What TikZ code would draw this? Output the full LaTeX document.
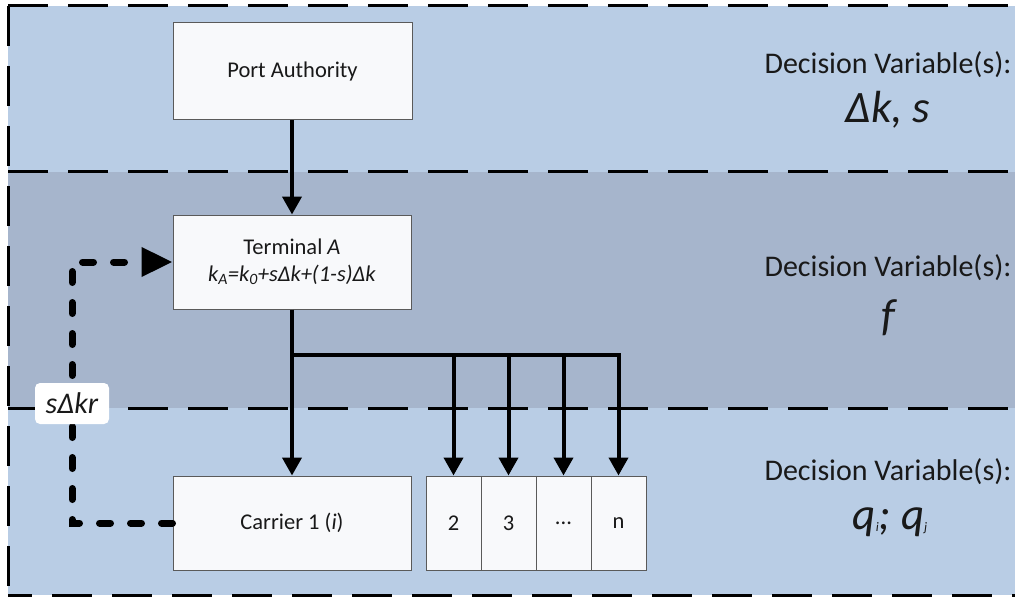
\documentclass[tikz,border=0pt]{standalone}
\usepackage{fontspec}
\setmainfont{Carlito}
\usetikzlibrary{arrows.meta}
\definecolor{bandblue}{RGB}{185,205,229}
\definecolor{bandgray}{RGB}{166,181,204}
\definecolor{boxfill}{RGB}{248,249,251}
\definecolor{boxline}{RGB}{90,90,90}
\definecolor{txt}{RGB}{25,25,25}
\begin{document}
\begin{tikzpicture}[x=1pt,y=-1pt,
  box/.style={draw=boxline, line width=1pt, fill=boxfill, inner sep=0pt,
    text=txt, font=\fontsize{22.5}{28}\selectfont, align=center},
  flow/.style={line width=4pt, -{Triangle[width=19pt,length=18pt]}},
  feedback/.style={line width=7pt, dash pattern=on 11pt off 20pt, line cap=round,
    -{Triangle[width=28pt,length=31pt]}},
  border/.style={line width=3pt, dash pattern=on 40pt off 20pt},
  dv/.style={text=txt, font=\fontsize{30}{36}\selectfont},
  var/.style={text=txt, font=\fontsize{45}{52}\selectfont\itshape},
  lbl/.style={fill=white, rounded corners=5pt, minimum width=74pt, minimum height=41pt,
    inner sep=0pt, text=txt, font=\fontsize{30}{36}\selectfont\itshape}
]
\useasboundingbox (0,0) rectangle (1015,599);
\fill[white] (0,0) rectangle (1015,599);
% bands
\fill[bandblue] (8,6) rectangle (1015,172);
\fill[bandgray] (8,172) rectangle (1015,408);
\fill[bandblue] (8,408) rectangle (1015,595);
% dashed borders
\draw[border] (8,6) -- (1015,6);
\draw[border] (8,6) -- (8,595);
\draw[border, dash phase=16pt] (8,595) -- (1015,595);
\draw[border] (8,172) -- (1015,172);
\draw[border] (8,408) -- (1015,408);

% boxes
\node[box, minimum width=239pt, minimum height=97pt] (pa) at (292.5,71.5) {Port Authority};
\node[box, minimum width=238pt, minimum height=94pt] (ta) at (292,262)
  {Terminal \textit{A}\\[-1pt]\textit{k\textsubscript{A}=k\textsubscript{0}+sΔk+(1-s)Δk}};
\node[box, minimum width=238pt, minimum height=94pt] (c1) at (292,523) {Carrier 1 (\textit{i})};
\node[box, minimum width=55pt, minimum height=94pt] (b2) at (453.5,523) {2};
\node[box, minimum width=55pt, minimum height=94pt] (b3) at (508.5,523) {3};
\node[box, minimum width=55pt, minimum height=94pt] (b4) at (563.5,523) {...};
\node[box, minimum width=55pt, minimum height=94pt] (bn) at (618.5,523) {n};

% flows
\draw[flow] (pa.south -| ta) -- (ta.north);
\draw[flow] (ta.south) -- (c1.north);
\coordinate (j) at (292,355);
\draw[line width=4pt] (j) -- (j -| bn);
\draw[flow] (j -| b2) -- (b2.north);
\draw[flow] (j -| b3) -- (b3.north);
\draw[flow] (j -| b4) -- (b4.north);
\draw[flow] ([yshift=2pt]j -| bn) -- (bn.north);

% feedback
\coordinate (fx) at (72,0);
\draw[feedback] (c1.west) -- (c1.west -| fx) -- (ta.west -| fx) -- (ta.west);
\node[lbl] (lab) at (72,403.5) {sΔkr};

% decision variables
\node[dv] (dv1) at (888,65) {Decision Variable(s):};
\node[var] (v1) at (888,110) {Δk, s};
\node[dv] (dv2) at (888,268) {Decision Variable(s):};
\node[var] (v2) at (888,318) {f};
\node[dv] (dv3) at (888,472) {Decision Variable(s):};
\node[var] (v3) at (890,522) {q\raisebox{-2pt}{\fontsize{13}{13}\selectfont i}; q\raisebox{-2pt}{\fontsize{13}{13}\selectfont j}};
\end{tikzpicture}
\end{document}
